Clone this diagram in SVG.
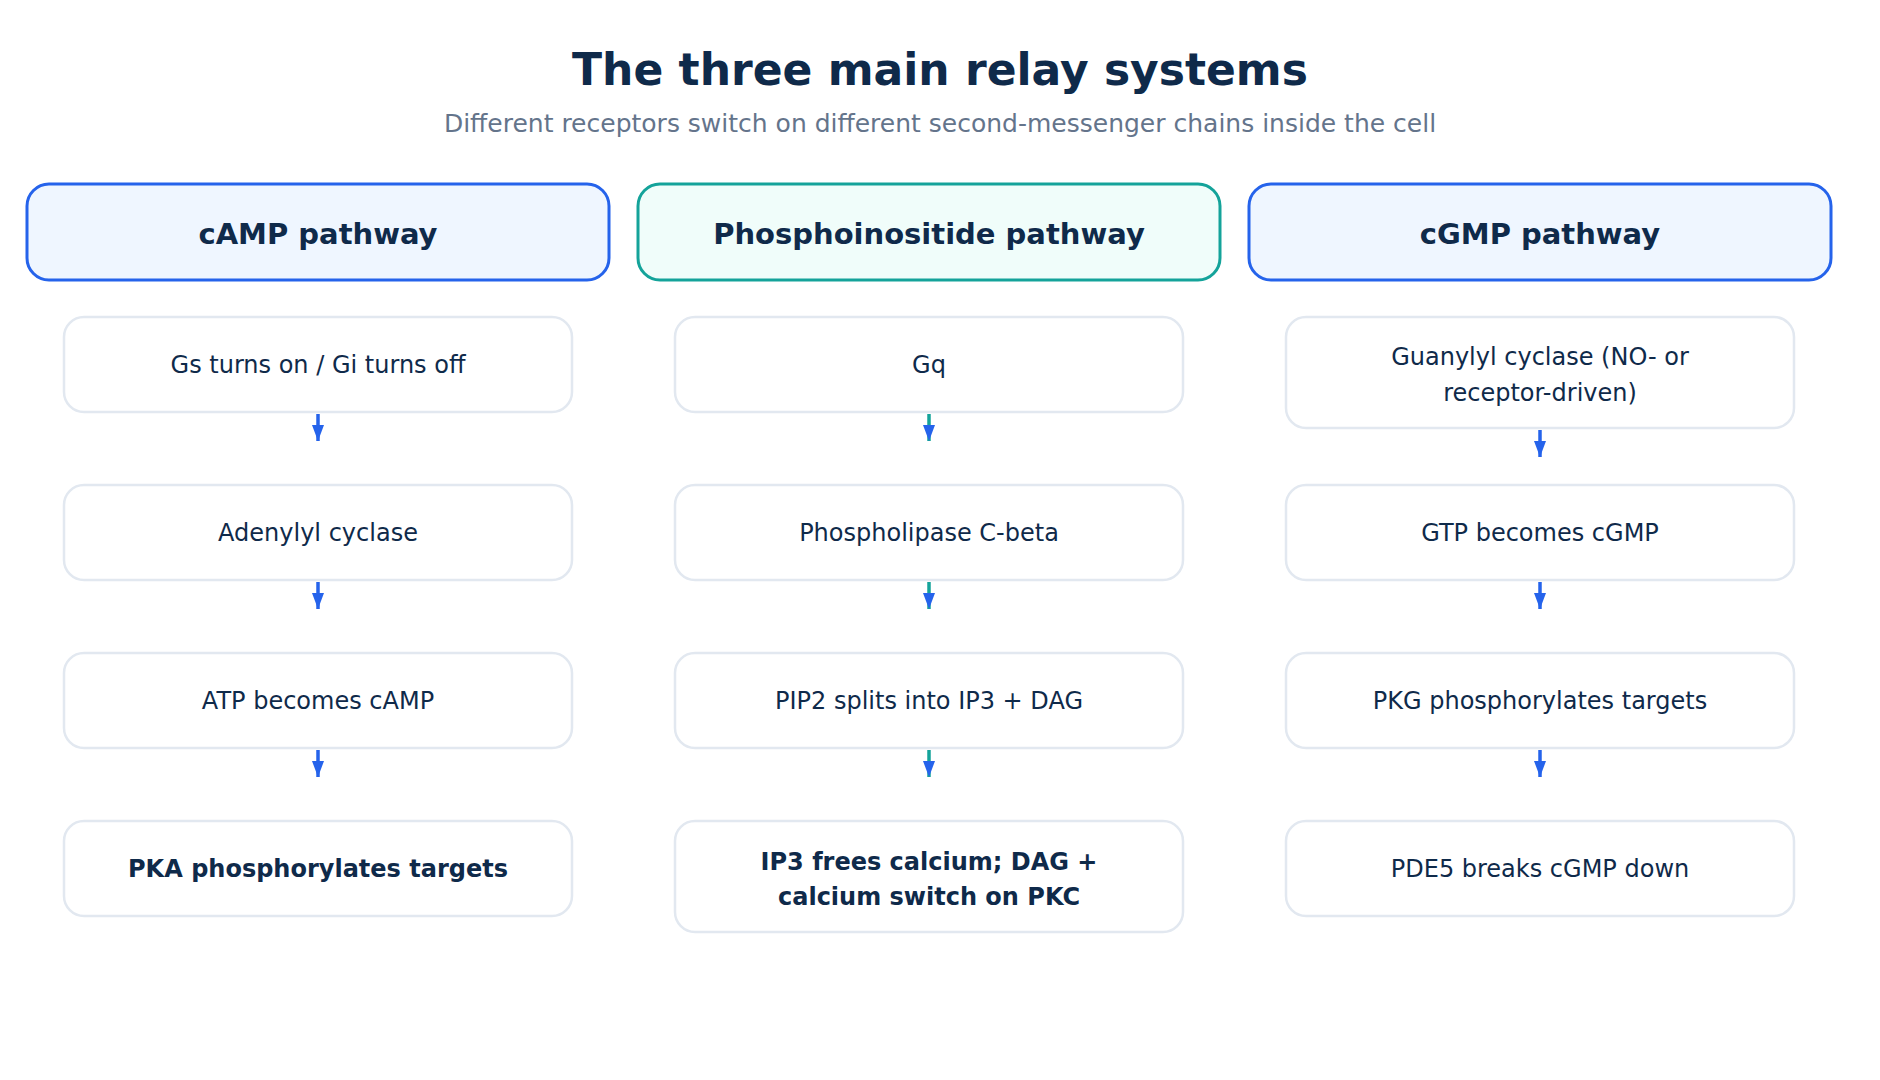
<svg xmlns="http://www.w3.org/2000/svg" width="1880" height="1080" viewBox="0 0 1880 1080">
<style>
text{font-family:"DejaVu Sans","Noto Sans",sans-serif;fill:#0f2a4a;text-anchor:middle}
.title{font-size:44px;font-weight:bold}
.sub{font-size:25px;fill:#64748b}
.hdr{font-size:29px;font-weight:bold}
.step{font-size:24px}
.b{font-weight:bold}
.hb{fill:#eff6ff;stroke:#2563eb;stroke-width:3}
.ht{fill:#f0fdfa;stroke:#14a39a;stroke-width:3}
.box{fill:#fff;stroke:#e2e8f0;stroke-width:2.5}
.ab{stroke:#2563eb;stroke-width:3.5;fill:none}
.at{stroke:#14a39a;stroke-width:3.5;fill:none}
</style>
<defs>
<marker id="ah" viewBox="0 0 16 12" refX="16" refY="6" markerWidth="16" markerHeight="12" markerUnits="userSpaceOnUse" orient="auto">
<path d="M0,0 L16,6 L0,12 z" fill="#2563eb"/>
</marker>
</defs>
<rect width="1880" height="1080" fill="#fff"/>
<text class="title" x="940" y="85">The three main relay systems</text>
<text class="sub" x="940" y="132">Different receptors switch on different second-messenger chains inside the cell</text>

<g id="h1"><rect class="hb" x="27" y="184" width="582" height="96" rx="22"/><text class="hdr" x="318" y="244">cAMP pathway</text></g>
<g id="h2"><rect class="ht" x="638" y="184" width="582" height="96" rx="22"/><text class="hdr" x="929" y="244">Phosphoinositide pathway</text></g>
<g id="h3"><rect class="hb" x="1249" y="184" width="582" height="96" rx="22"/><text class="hdr" x="1540" y="244">cGMP pathway</text></g>

<g id="a1"><rect class="box" x="64" y="317" width="508" height="95" rx="20"/><text class="step" x="318" y="373">Gs turns on / Gi turns off</text></g>
<g id="a2"><rect class="box" x="64" y="485" width="508" height="95" rx="20"/><text class="step" x="318" y="541">Adenylyl cyclase</text></g>
<g id="a3"><rect class="box" x="64" y="653" width="508" height="95" rx="20"/><text class="step" x="318" y="709">ATP becomes cAMP</text></g>
<g id="a4"><rect class="box" x="64" y="821" width="508" height="95" rx="20"/><text class="step b" x="318" y="877">PKA phosphorylates targets</text></g>

<g id="b1"><rect class="box" x="675" y="317" width="508" height="95" rx="20"/><text class="step" x="929" y="373">Gq</text></g>
<g id="b2"><rect class="box" x="675" y="485" width="508" height="95" rx="20"/><text class="step" x="929" y="541">Phospholipase C-beta</text></g>
<g id="b3"><rect class="box" x="675" y="653" width="508" height="95" rx="20"/><text class="step" x="929" y="709">PIP2 splits into IP3 + DAG</text></g>
<g id="b4"><rect class="box" x="675" y="821" width="508" height="111" rx="20"/><text class="step b" x="929" y="870">IP3 frees calcium; DAG +</text><text class="step b" x="929" y="905">calcium switch on PKC</text></g>

<g id="c1"><rect class="box" x="1286" y="317" width="508" height="111" rx="20"/><text class="step" x="1540" y="365">Guanylyl cyclase (NO- or</text><text class="step" x="1540" y="401">receptor-driven)</text></g>
<g id="c2"><rect class="box" x="1286" y="485" width="508" height="95" rx="20"/><text class="step" x="1540" y="541">GTP becomes cGMP</text></g>
<g id="c3"><rect class="box" x="1286" y="653" width="508" height="95" rx="20"/><text class="step" x="1540" y="709">PKG phosphorylates targets</text></g>
<g id="c4"><rect class="box" x="1286" y="821" width="508" height="95" rx="20"/><text class="step" x="1540" y="877">PDE5 breaks cGMP down</text></g>

<g id="connectors">
<line class="ab" x1="318" y1="414" x2="318" y2="441" marker-end="url(#ah)"/>
<line class="ab" x1="318" y1="582" x2="318" y2="609" marker-end="url(#ah)"/>
<line class="ab" x1="318" y1="750" x2="318" y2="777" marker-end="url(#ah)"/>
<line class="at" x1="929" y1="414" x2="929" y2="441" marker-end="url(#ah)"/>
<line class="at" x1="929" y1="582" x2="929" y2="609" marker-end="url(#ah)"/>
<line class="at" x1="929" y1="750" x2="929" y2="777" marker-end="url(#ah)"/>
<line class="ab" x1="1540" y1="430" x2="1540" y2="457" marker-end="url(#ah)"/>
<line class="ab" x1="1540" y1="582" x2="1540" y2="609" marker-end="url(#ah)"/>
<line class="ab" x1="1540" y1="750" x2="1540" y2="777" marker-end="url(#ah)"/>
</g>
</svg>
